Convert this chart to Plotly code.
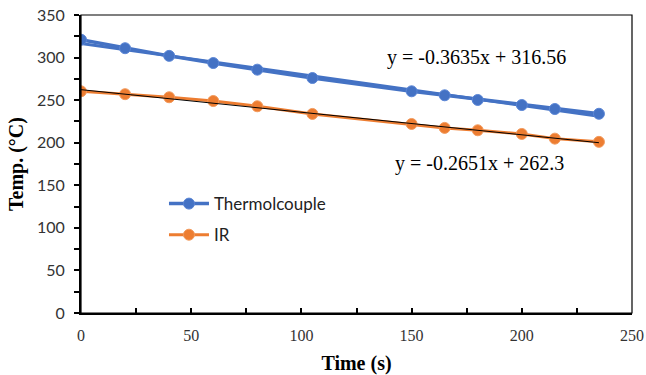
import plotly.graph_objects as go
import numpy as np

# ---- data ----
time_tc = [0, 20, 40, 60, 80, 105, 150, 165, 180, 200, 215, 235]
temp_tc = [321, 311, 302, 293.6, 285.8, 276, 260.4, 255.7, 250.2, 244.3, 239.6, 234]
time_ir = [0, 20, 40, 60, 80, 105, 150, 165, 180, 200, 215, 235]
temp_ir = [260.4, 257, 253.4, 249, 242.8, 233.8, 222, 217.4, 214.6, 210.3, 204.8, 201]
fit_tc = [-0.3635, 316.56]
fit_ir = [-0.2651, 262.3]
series_names = ["Thermolcouple", "IR"]
x_ticks = [0, 50, 100, 150, 200, 250]
y_ticks = [0, 50, 100, 150, 200, 250, 300, 350]

BLUE = "#4472C4"
ORANGE = "#ED7D31"

fig = go.Figure()

def trend(fit, xs):
    xs = np.array([min(xs), max(xs)], dtype=float)
    return xs, fit[0] * xs + fit[1]

# Thermocouple trendline (blue, thick) and series
tx, ty = trend(fit_tc, time_tc)
fig.add_trace(go.Scatter(x=tx, y=ty, mode="lines", line=dict(color=BLUE, width=3),
                         showlegend=False, hoverinfo="skip"))
fig.add_trace(go.Scatter(x=time_tc, y=temp_tc, mode="lines+markers", name=series_names[0],
                         line=dict(color=BLUE, width=3.5),
                         marker=dict(color=BLUE, size=11, line=dict(color="#5B86D6", width=1)),
                         legendgroup="a"))
# IR series and black thin trendline
fig.add_trace(go.Scatter(x=time_ir, y=temp_ir, mode="lines+markers", name=series_names[1],
                         line=dict(color=ORANGE, width=3),
                         marker=dict(color=ORANGE, size=11, line=dict(color="#F29B5E", width=1)),
                         legendgroup="b"))
ix, iy = trend(fit_ir, time_ir)
fig.add_trace(go.Scatter(x=ix, y=iy, mode="lines", line=dict(color="black", width=1),
                         showlegend=False, hoverinfo="skip"))

def eq(fit):
    return f"y = {fit[0]}x + {fit[1]}"

fig.add_annotation(text=eq(fit_tc), xref="paper", yref="paper", x=0.7178, y=0.856,
                   showarrow=False, xanchor="center", yanchor="middle",
                   font=dict(family="Liberation Serif", size=20, color="black"))
fig.add_annotation(text=eq(fit_ir), xref="paper", yref="paper", x=0.723, y=0.502,
                   showarrow=False, xanchor="center", yanchor="middle",
                   font=dict(family="Liberation Serif", size=20, color="black"))

# frame box
fig.add_shape(type="rect", xref="x domain", yref="y domain", x0=0, y0=0, x1=1, y1=1,
              line=dict(color="black", width=1.2), layer="above")

fig.update_xaxes(range=[0, 250], tickvals=x_ticks, ticks="inside", ticklen=5, tickwidth=2,
                 tickcolor="black", showline=True, linecolor="black", linewidth=2,
                 minor=dict(dtick=25, ticks="inside", ticklen=5, tickwidth=2, tickcolor="black"),
                 showgrid=False, zeroline=False, automargin=False, ticklabelstandoff=7,
                 ticklabeloverflow="allow",
                 tickfont=dict(family="Liberation Serif", size=16, color="#333"),
                 title=dict(text="<b>Time (s)</b>", standoff=18,
                            font=dict(family="Liberation Serif", size=20, color="black")))
fig.update_yaxes(range=[0, 350], tickvals=y_ticks, ticks="outside", ticklen=5, tickwidth=2,
                 tickcolor="black", showline=True, linecolor="black", linewidth=2,
                 minor=dict(dtick=25, ticks="outside", ticklen=5, tickwidth=2, tickcolor="black"),
                 showgrid=False, zeroline=False, automargin=False, ticklabelstandoff=6,
                 ticklabeloverflow="allow",
                 tickfont=dict(family="Lato", size=16, color="#333"),
                 title=dict(text="<b>Temp. (°C)</b>", standoff=8,
                            font=dict(family="Liberation Serif", size=20, color="black")))

fig.update_layout(width=646, height=375, margin=dict(l=81, r=14, t=15, b=62, autoexpand=False),
                  plot_bgcolor="white", paper_bgcolor="white",
                  legend=dict(x=0.1506, y=0.426, xanchor="left", yanchor="top",
                              bgcolor="rgba(0,0,0,0)", itemwidth=40, tracegroupgap=6,
                              traceorder="grouped",
                              font=dict(family="Lato", size=17, color="#222")),
                  showlegend=True)

fig.write_html("out.html", config={"displayModeBar": False},
               post_script="document.body.style.margin='0';document.body.style.overflow='hidden';")
